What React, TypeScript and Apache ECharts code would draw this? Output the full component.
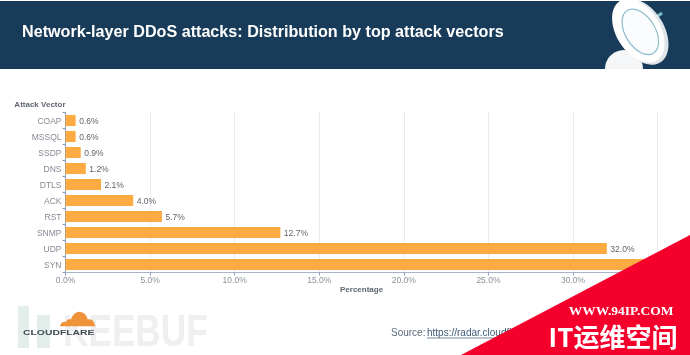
import React, { useEffect, useRef } from "react";
import * as echarts from "echarts";

const titleText = "Network-layer DDoS attacks: Distribution by top attack vectors";
const categories = ["COAP", "MSSQL", "SSDP", "DNS", "DTLS", "ACK", "RST", "SNMP", "UDP", "SYN"];
const values = [0.6, 0.6, 0.9, 1.2, 2.1, 4.0, 5.7, 12.7, 32.0, 34.5];
const FONT = "'Liberation Sans', Arial, sans-serif";

echarts.graphic.registerShape(
  "cfCloud",
  echarts.graphic.extendPath(
    "M0 16 C1 12 5 11 8 11.5 C10 8 13 8 14.5 9 C17 3 23 0 28 1 C33 2 36 5 37 9 C42 8 45 10 47 16 Z",
    {}
  )
);

export default function App() {
  const ref = useRef<HTMLDivElement>(null);
  useEffect(() => {
    document.body.style.margin = "0";
    const chart = echarts.init(ref.current!, undefined, { renderer: "svg" });
    chart.setOption({
      animation: false,
      backgroundColor: "#ffffff",
      grid: { left: 65.5, right: 32.4, top: 112.5, height: 160 },
      xAxis: {
        type: "value",
        min: 0,
        max: 35,
        interval: 5,
        name: "Percentage",
        nameLocation: "middle",
        nameGap: 12,
        nameTextStyle: { color: "#5f6672", fontSize: 8, fontWeight: "bold", fontFamily: FONT },
        axisLine: { show: true, lineStyle: { color: "#aab4c8", width: 1 } },
        axisTick: { show: true, length: 3, lineStyle: { color: "#8a9bbd" } },
        axisLabel: {
          color: "#8b9099",
          fontSize: 8.5,
          fontFamily: FONT,
          margin: 3,
          formatter: (v: number) => v.toFixed(1) + "%",
        },
        splitLine: { show: true, lineStyle: { color: "#e9ebef", width: 1 } },
      },
      yAxis: {
        type: "category",
        inverse: true,
        data: categories,
        name: "Attack Vector",
        nameLocation: "start",
        nameGap: 4,
        nameTextStyle: {
          color: "#5f6672",
          fontSize: 8,
          fontWeight: "bold",
          fontFamily: FONT,
          align: "right",
          verticalAlign: "bottom",
        },
        axisLine: { show: true, lineStyle: { color: "#8a9bbd", width: 1 } },
        axisTick: { show: true, length: 3, lineStyle: { color: "#8a9bbd" } },
        axisLabel: { color: "#858a94", fontSize: 8.5, fontFamily: FONT, margin: 4 },
        splitLine: { show: false },
      },
      series: [
        {
          type: "bar",
          data: values,
          barWidth: 11,
          itemStyle: { color: "#fbab41" },
          label: {
            show: true,
            position: "right",
            distance: 3.5,
            color: "#5f636b",
            fontSize: 8.5,
            fontFamily: FONT,
            formatter: (p: any) => Number(p.value).toFixed(1) + "%",
          },
        },
      ],
      graphic: [
        { type: "rect", z: 0, shape: { x: 0, y: 1, width: 690, height: 68 }, style: { fill: "#173b58" } },
        {
          type: "text", z: 5, x: 22, y: 31,
          style: { text: titleText, fill: "#ffffff", fontSize: 16.15, fontWeight: "bold", fontFamily: FONT, verticalAlign: "middle" },
        },
        // satellite dish
        { type: "circle", z: 5, shape: { cx: 624, cy: 69, r: 19 }, style: { fill: "#f4f6f8" } },
        { type: "rect", z: 6, shape: { x: 600, y: 69, width: 70, height: 30 }, style: { fill: "#ffffff" } },
        { type: "line", z: 5, shape: { x1: 652, y1: 20, x2: 662, y2: 13 }, style: { stroke: "#7fc0c8", lineWidth: 3 } },
        { type: "ellipse", z: 5, rotation: 0.55, originX: 641, originY: 32, shape: { cx: 641, cy: 32, rx: 23, ry: 36 }, style: { fill: "#dfe5ea" } },
        { type: "ellipse", z: 5, rotation: 0.55, originX: 638, originY: 31, shape: { cx: 638, cy: 31, rx: 22, ry: 35 }, style: { fill: "#ffffff" } },
        { type: "ellipse", z: 5, rotation: 0.55, originX: 640, originY: 32, shape: { cx: 640, cy: 32, rx: 15, ry: 25 }, style: { fill: "#fbfcfd", stroke: "#8dbccc", lineWidth: 1.2 } },
        { type: "rect", z: 6, shape: { x: 600, y: 0, width: 80, height: 1 }, style: { fill: "#ffffff" } },
        // watermark
        { type: "rect", z: 0, shape: { x: 18, y: 306, width: 11, height: 42 }, style: { fill: "#e3eeea" } },
        { type: "rect", z: 0, shape: { x: 37, y: 315, width: 13, height: 33 }, style: { fill: "#e3eeea" } },
        {
          type: "text", z: 0, x: 63, y: 331, scaleX: 0.8,
          style: { text: "KEEBUF", fill: "#efefef", fontSize: 44, fontWeight: "bold", fontFamily: FONT, verticalAlign: "middle" },
        },
        // Cloudflare logo
        { type: "cfCloud", z: 5, x: 60, y: 311, scaleX: 0.75, scaleY: 0.95, style: { fill: "#f0923a" } },
        {
          type: "text", z: 5, x: 23, y: 332, scaleX: 1.3,
          style: { text: "CLOUDFLARE", fill: "#3c4c50", fontSize: 8, fontWeight: "bold", fontFamily: FONT, verticalAlign: "middle" },
        },
        // source line
        {
          type: "text", z: 5, x: 391, y: 332,
          style: { text: "Source:", fill: "#5b6b7d", fontSize: 10, fontFamily: FONT, verticalAlign: "middle" },
        },
        {
          type: "text", z: 5, x: 427, y: 332,
          style: { text: "https://radar.cloudflare.com", fill: "#3d5a78", fontSize: 10, fontFamily: FONT, verticalAlign: "middle" },
        },
        { type: "line", z: 5, shape: { x1: 427, y1: 338, x2: 520, y2: 338 }, style: { stroke: "#3d5a78", lineWidth: 0.7 } },
        // corner ribbon
        { type: "polygon", z: 20, shape: { points: [[690, 235], [690, 355], [461, 355]] }, style: { fill: "#f5002d" } },
        {
          type: "text", z: 21, x: 621, y: 310,
          style: { text: "WWW.94IP.COM", fill: "#ffffff", fontSize: 13.5, fontWeight: "bold", fontFamily: "'Liberation Serif', serif", align: "center", verticalAlign: "middle" },
        },
        {
          type: "text", z: 21, x: 613, y: 335,
          style: { text: "IT运维空间", fill: "#ffffff", fontSize: 26, fontWeight: "bold", fontFamily: "'Noto Sans CJK SC', sans-serif", align: "center", verticalAlign: "middle" },
        },
      ],
    });
    return () => chart.dispose();
  }, []);
  return <div ref={ref} style={{ width: 690, height: 355, filter: "blur(0.35px)" }} />;
}
